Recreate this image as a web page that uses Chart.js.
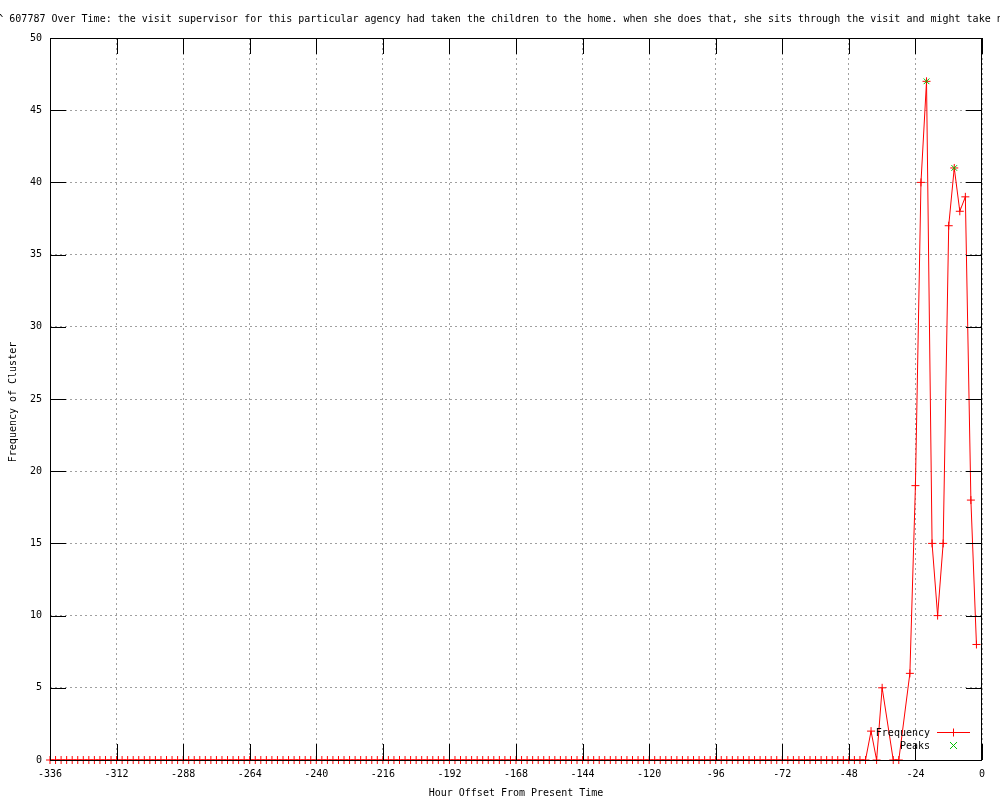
<!DOCTYPE html>
<html>
<head>
<meta charset="utf-8">
<script src="https://cdn.jsdelivr.net/npm/chart.js@4.4.0/dist/chart.umd.min.js"></script>
<style>
  html, body { margin: 0; padding: 0; background: #fff; }
  #wrap { width: 1000px; height: 800px; position: relative; }
</style>
</head>
<body>
<div id="wrap"><canvas id="chart"></canvas></div>
<script>
var TITLE = '^ 607787 Over Time: the visit supervisor for this particular agency had taken the children to the home. when she does that, she sits through the visit and might take n';
var X_TITLE = 'Hour Offset From Present Time';
var Y_TITLE = 'Frequency of Cluster';

// hours before now, one row per day
var hours = [
  -336, -334, -332, -330, -328, -326, -324, -322, -320, -318, -316, -314,
  -312, -310, -308, -306, -304, -302, -300, -298, -296, -294, -292, -290,
  -288, -286, -284, -282, -280, -278, -276, -274, -272, -270, -268, -266,
  -264, -262, -260, -258, -256, -254, -252, -250, -248, -246, -244, -242,
  -240, -238, -236, -234, -232, -230, -228, -226, -224, -222, -220, -218,
  -216, -214, -212, -210, -208, -206, -204, -202, -200, -198, -196, -194,
  -192, -190, -188, -186, -184, -182, -180, -178, -176, -174, -172, -170,
  -168, -166, -164, -162, -160, -158, -156, -154, -152, -150, -148, -146,
  -144, -142, -140, -138, -136, -134, -132, -130, -128, -126, -124, -122,
  -120, -118, -116, -114, -112, -110, -108, -106, -104, -102, -100, -98,
  -96, -94, -92, -90, -88, -86, -84, -82, -80, -78, -76, -74,
  -72, -70, -68, -66, -64, -62, -60, -58, -56, -54, -52, -50,
  -48, -46, -44, -42, -40, -38, -36, -32, -30, -26,
  -24, -22, -20, -18, -16, -14, -12, -10, -8, -6, -4, -2
];
var frequency = [
  0, 0, 0, 0, 0, 0, 0, 0, 0, 0, 0, 0,
  0, 0, 0, 0, 0, 0, 0, 0, 0, 0, 0, 0,
  0, 0, 0, 0, 0, 0, 0, 0, 0, 0, 0, 0,
  0, 0, 0, 0, 0, 0, 0, 0, 0, 0, 0, 0,
  0, 0, 0, 0, 0, 0, 0, 0, 0, 0, 0, 0,
  0, 0, 0, 0, 0, 0, 0, 0, 0, 0, 0, 0,
  0, 0, 0, 0, 0, 0, 0, 0, 0, 0, 0, 0,
  0, 0, 0, 0, 0, 0, 0, 0, 0, 0, 0, 0,
  0, 0, 0, 0, 0, 0, 0, 0, 0, 0, 0, 0,
  0, 0, 0, 0, 0, 0, 0, 0, 0, 0, 0, 0,
  0, 0, 0, 0, 0, 0, 0, 0, 0, 0, 0, 0,
  0, 0, 0, 0, 0, 0, 0, 0, 0, 0, 0, 0,
  0, 0, 0, 0, 2, 0, 5, 0, 0, 6,
  19, 40, 47, 15, 10, 15, 37, 41, 38, 39, 18, 8
];
var peakHours = [-20, -10];
var peakValues = [47, 41];

var xTicks = [-336, -312, -288, -264, -240, -216, -192, -168, -144, -120, -96, -72, -48, -24, 0];
var yTicks = [0, 5, 10, 15, 20, 25, 30, 35, 40, 45, 50];

var FONT = '10px "DejaVu Sans Mono", "Liberation Mono", monospace';
var RED = '#ff0000';
var GREEN = '#00c000';
var TICK = 16;

function toPoints(xs, ys) {
  return xs.map(function(x, i) { return { x: x, y: ys[i] }; });
}

function drawPlus(ctx, x, y, r) {
  ctx.moveTo(x - r, y); ctx.lineTo(x + r, y);
  ctx.moveTo(x, y - r); ctx.lineTo(x, y + r);
}

function drawX(ctx, x, y, r) {
  ctx.moveTo(x - r, y - r); ctx.lineTo(x + r, y + r);
  ctx.moveTo(x - r, y + r); ctx.lineTo(x + r, y - r);
}

// border, inward tick marks, titles and key, drawn the gnuplot way
var gnuplotFrame = {
  id: 'gnuplotFrame',
  afterDatasetsDraw: function(chart) {
    var ctx = chart.ctx, a = chart.chartArea;
    var sx = chart.scales.x, sy = chart.scales.y;
    ctx.save();
    ctx.strokeStyle = '#000';
    ctx.lineWidth = 1;
    ctx.beginPath();
    xTicks.forEach(function(v) {
      var px = Math.round(sx.getPixelForValue(v)) + 0.5;
      ctx.moveTo(px, a.bottom); ctx.lineTo(px, a.bottom - TICK);
      ctx.moveTo(px, a.top); ctx.lineTo(px, a.top + TICK);
    });
    yTicks.forEach(function(v) {
      var py = Math.round(sy.getPixelForValue(v)) + 0.5;
      ctx.moveTo(a.left, py); ctx.lineTo(a.left + TICK, py);
      ctx.moveTo(a.right, py); ctx.lineTo(a.right - TICK, py);
    });
    ctx.stroke();
    ctx.strokeRect(a.left + 0.5, a.top + 0.5, a.right - a.left - 1, a.bottom - a.top);

    ctx.fillStyle = '#000';
    ctx.font = FONT;
    ctx.textBaseline = 'middle';
    ctx.textAlign = 'center';
    ctx.fillText(TITLE, 500, 19);
    ctx.fillText(X_TITLE, (a.left + a.right) / 2, 793);
    ctx.save();
    ctx.translate(13, 402);
    ctx.rotate(-Math.PI / 2);
    ctx.fillText(Y_TITLE, 0, 0);
    ctx.restore();

    // key
    ctx.textAlign = 'right';
    ctx.fillText('Frequency', 930, 733);
    ctx.fillText('Peaks', 930, 746);
    ctx.beginPath();
    ctx.strokeStyle = RED;
    ctx.moveTo(937, 732.5); ctx.lineTo(970, 732.5);
    drawPlus(ctx, 953.5, 732.5, 4);
    ctx.stroke();
    ctx.beginPath();
    ctx.strokeStyle = GREEN;
    drawX(ctx, 953.5, 745.5, 3.5);
    ctx.stroke();
    ctx.restore();
  }
};

new Chart(document.getElementById('chart'), {
  type: 'line',
  data: {
    datasets: [
      {
        label: 'Frequency',
        data: toPoints(hours, frequency),
        borderColor: RED,
        borderWidth: 1,
        pointStyle: 'cross',
        pointRadius: 4,
        pointBorderColor: RED,
        pointBorderWidth: 1,
        tension: 0,
        fill: false,
        clip: false,
        order: 1
      },
      {
        label: 'Peaks',
        data: toPoints(peakHours, peakValues),
        showLine: false,
        pointStyle: 'crossRot',
        pointRadius: 4,
        pointBorderColor: GREEN,
        pointBorderWidth: 1,
        clip: false,
        order: 0
      }
    ]
  },
  options: {
    responsive: true,
    maintainAspectRatio: false,
    animation: false,
    events: [],
    layout: { padding: { top: 38, right: 18, left: 0, bottom: 0 } },
    plugins: { legend: { display: false }, tooltip: { enabled: false } },
    scales: {
      x: {
        type: 'linear',
        min: -336,
        max: 0,
        afterBuildTicks: function(s) { s.ticks = xTicks.map(function(v) { return { value: v }; }); },
        afterFit: function(s) { s.height = 40; },
        ticks: { color: '#000', font: { family: '"DejaVu Sans Mono", monospace', size: 10 }, padding: 8, maxRotation: 0, autoSkip: false },
        grid: { color: '#a0a0a0', drawTicks: false, lineWidth: 1 },
        border: { display: false, dash: [2, 3] }
      },
      y: {
        type: 'linear',
        min: 0,
        max: 50,
        afterBuildTicks: function(s) { s.ticks = yTicks.map(function(v) { return { value: v }; }); },
        afterFit: function(s) { s.width = 50; },
        ticks: { color: '#000', font: { family: '"DejaVu Sans Mono", monospace', size: 10 }, padding: 8 },
        grid: { color: '#a0a0a0', drawTicks: false, lineWidth: 1 },
        border: { display: false, dash: [2, 3] }
      }
    }
  },
  plugins: [gnuplotFrame]
});
</script>
</body>
</html>
